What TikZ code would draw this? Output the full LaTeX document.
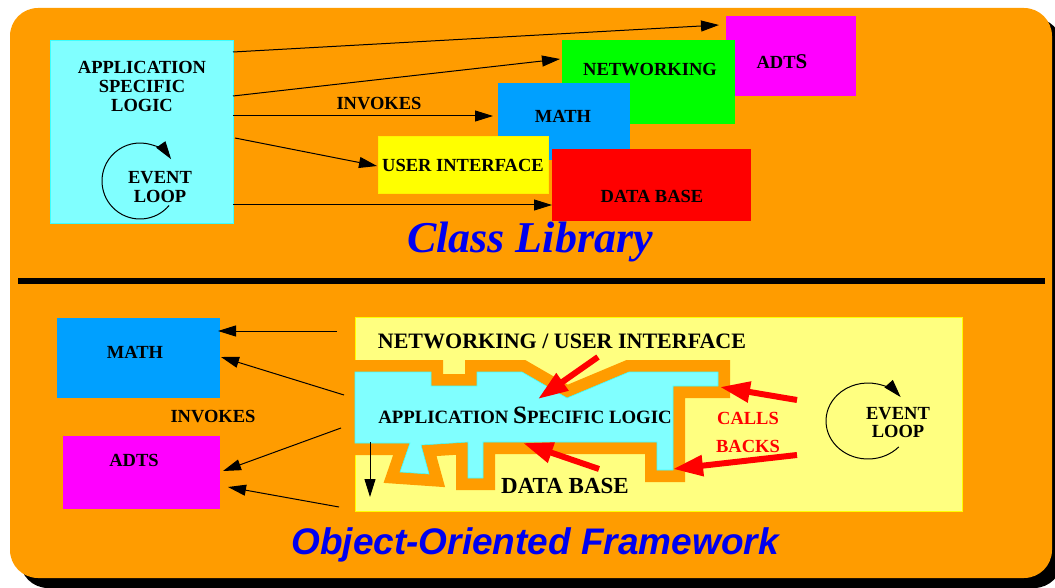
\documentclass[tikz,border=0pt]{standalone}
\usepackage{fontspec}
\setmainfont{Liberation Serif}
\newfontfamily\hsansfam{Liberation Sans}
\usetikzlibrary{arrows.meta}
\definecolor{bgor}{RGB}{255,156,0}
\definecolor{appcy}{RGB}{128,255,255}
\definecolor{cyedge}{RGB}{60,255,255}
\definecolor{panelyel}{RGB}{255,255,128}
\definecolor{mathbl}{RGB}{0,160,255}
\definecolor{adtmag}{RGB}{255,0,255}
\definecolor{netgr}{RGB}{0,255,0}
\definecolor{uiyel}{RGB}{255,255,0}
\definecolor{dbred}{RGB}{255,0,0}
\definecolor{ttlblue}{RGB}{0,0,240}
\newcommand\cyanshape{(355,372) -- (431,372) -- (431,386) -- (477,386) -- (477,372) -- (522,372) -- (567,398) -- (629,372) -- (718,372) -- (718,386) -- (673,386) -- (673,470) -- (657,470) -- (657,442) -- (483,442) -- (483,478) -- (468,478) -- (468,442) -- (421,445) -- (429,474) -- (400,472) -- (410,443) -- (355,443) -- cycle}
\begin{document}
\begin{tikzpicture}[x=1pt,y=-1pt,
  lbl/.style={font=\fontsize{18.5}{18.6}\selectfont\bfseries, align=center, inner sep=0pt, text=black},
  bigl/.style={font=\fontsize{22}{24}\selectfont\bfseries, inner sep=0pt, text=black, anchor=base},
  blk/.style={anchor=north west, inner sep=0pt, outer sep=0pt, line width=0.8pt},
  arr/.style={-{Triangle[length=18pt,width=11pt]}, line width=1pt, black},
  redarr/.style={-{Triangle[length=30pt,width=20pt]}, line width=6pt, dbred},
]
\useasboundingbox (0,0) rectangle (1055,588);
\clip (0,0) rectangle (1055,588);
% background with shadow
\fill[black, rounded corners=28pt] (20,18) rectangle (1062,588);
\fill[bgor, rounded corners=28pt] (10,8) rectangle (1052,578);
\draw[line width=6pt] (18,281) -- (1045,281);

% ===== Class library =====
\node[blk, fill=appcy, draw=cyedge, minimum width=183pt, minimum height=183pt] (app) at (50,40) {};
\node[blk, fill=adtmag, draw=adtmag, minimum width=129pt, minimum height=79pt] (adts) at (726,16) {};
\node[blk, fill=netgr, draw=netgr, minimum width=172pt, minimum height=83pt] (net) at (562,40) {};
\node[blk, fill=mathbl, draw=mathbl, minimum width=131pt, minimum height=76pt] (math) at (498,83) {};
\node[blk, fill=uiyel, draw=uiyel!90!orange, minimum width=170pt, minimum height=57pt] (ui) at (378,136) {};
\node[blk, fill=dbred, draw=dbred, minimum width=198pt, minimum height=71pt] (db) at (552,149) {};

\node[lbl] (applbl) at (142,86.5) {APPLICATION\\SPECIFIC\\LOGIC};
\node[lbl] (evlbl) at (160,187) {EVENT\\LOOP};
\node[lbl] (adtslbl) at (782,62) {ADT{\fontsize{21}{21}\selectfont S}};
\node[lbl] (netlbl) at (650,70) {NETWORKING};
\node[lbl] (mathlbl) at (563,116) {MATH};
\node[lbl] (uilbl) at (463,165) {USER INTERFACE};
\node[lbl] (dblbl) at (652,196) {DATA BASE};
\node[lbl] (invtop) at (379,104) {INVOKES};

\coordinate (loopa) at (140,181);
\draw[arr] (loopa) ++(40:38) arc[start angle=40, end angle=325, radius=38];

\draw[arr] ([yshift=-12pt]app.north east) -- ([xshift=-7pt,yshift=-9pt]adts.north west);
\draw[arr] ([yshift=-56pt]app.north east) -- ([xshift=-2pt,yshift=-19pt]net.north west);
\draw[arr] ([yshift=-76pt]app.north east) -- ([xshift=-5pt,yshift=-33pt]math.north west);
\draw[arr] ([xshift=2pt,yshift=-98pt]app.north east) -- ([xshift=-1pt,yshift=-30pt]ui.north west);
\draw[arr] ([yshift=-165pt]app.north east) -- ([yshift=-56pt]db.north west);

\node[font=\fontsize{44}{44}\selectfont\bfseries\itshape, text=ttlblue, anchor=base, inner sep=0pt] (cltitle) at (530,252) {Class Library};

% ===== Framework =====
\node[blk, fill=panelyel, draw=uiyel, minimum width=607pt, minimum height=194pt] (panel) at (355,317) {};
\node[blk, fill=mathbl, draw=mathbl, minimum width=162pt, minimum height=79pt] (lmath) at (57,318) {};
\node[blk, fill=adtmag, draw=adtmag, minimum width=156pt, minimum height=72pt] (ladts) at (63,436) {};

\draw[bgor, line width=24pt, line join=miter] \cyanshape;
\fill[appcy, draw=cyedge, line width=0.6pt] \cyanshape;

\node[lbl] (lmathlbl) at (135,352) {MATH};
\node[lbl] (ladtslbl) at (134,460) {ADTS};
\node[lbl] (invbot) at (213,416.5) {INVOKES};
\node[bigl] (nuilbl) at (562,348) {NETWORKING / USER INTERFACE};
\node[bigl, font=\fontsize{23}{24}\selectfont\bfseries] (dbbot) at (565,493) {DATA BASE};
\node[inner sep=0pt, anchor=base, font=\bfseries, text=black] (asl) at (525,423) {{\fontsize{18.8}{20}\selectfont APPLICATION }{\fontsize{25}{25}\selectfont S}{\fontsize{18.8}{20}\selectfont PECIFIC LOGIC}};
\node[lbl, text=dbred, anchor=base] (calls) at (748,424.5) {CALLS};
\node[lbl, text=dbred, anchor=base] (backs) at (748,452) {BACKS};
\node[lbl] (evlbl2) at (898,422.5) {EVENT\\LOOP};

\coordinate (loopb) at (868,421);
\draw[arr] (loopb) ++(43:42 and 38) arc[start angle=43, end angle=321, x radius=42, y radius=38];

\draw[arr] ([xshift=-18pt,yshift=-14pt]panel.north west) -- ([xshift=-1pt,yshift=-13pt]lmath.north east);
\draw[arr] ([xshift=-11pt,yshift=-78pt]panel.north west) -- ([xshift=2pt,yshift=-39pt]lmath.north east);
\draw[arr] ([xshift=-14pt,yshift=-111pt]panel.north west) -- ([xshift=4pt,yshift=-35pt]ladts.north east);
\draw[arr] ([xshift=-16pt,yshift=-190pt]panel.north west) -- ([xshift=9pt,yshift=-51pt]ladts.north east);
\draw[arr] ([xshift=15pt,yshift=-125pt]panel.north west) -- ([xshift=15pt,yshift=-180pt]panel.north west);

\coordinate (r1s) at (598,357); \coordinate (r1e) at (538,399);
\coordinate (r2s) at (599,469); \coordinate (r2e) at (523,443);
\coordinate (r3s) at (797,400); \coordinate (r3e) at (720,387);
\coordinate (r4s) at (797,455); \coordinate (r4e) at (673,469);
\draw[redarr] (r1s) -- (r1e);
\draw[redarr] (r2s) -- (r2e);
\draw[redarr] (r3s) -- (r3e);
\draw[redarr] (r4s) -- (r4e);

\node[font=\hsansfam\fontsize{37}{37}\selectfont\bfseries\itshape, text=ttlblue, anchor=base, inner sep=0pt] (ooftitle) at (535,554) {Object-Oriented Framework};
\end{tikzpicture}
\end{document}
